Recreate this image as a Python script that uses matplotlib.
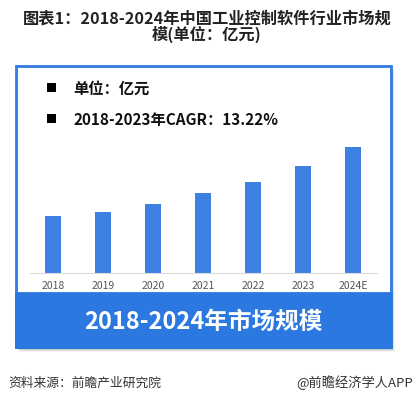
import matplotlib.pyplot as plt
from matplotlib.patches import Rectangle

plt.rcParams['font.family'] = ['Noto Sans CJK SC', 'DejaVu Sans']

years = ["2018", "2019", "2020", "2021", "2022", "2023", "2024E"]
market_size = [57.3, 61.0, 69.0, 80.0, 91.0, 107.0, 126.0]

title = "图表1：2018-2024年中国工业控制软件行业市场规\n模(单位：亿元)"
legend_lines = ["单位：亿元", "2018-2023年CAGR：13.22%"]
banner_text = "2018-2024年市场规模"
source_text = "资料来源：前瞻产业研究院"
brand_text = "@前瞻经济学人APP"

W, H = 415, 402
fig = plt.figure(figsize=(W / 100, H / 100), dpi=100)

# full-figure axes in pixel coordinates for layout
bg = fig.add_axes([0, 0, 1, 1])
bg.set_xlim(0, W)
bg.set_ylim(H, 0)
bg.axis("off")

bg.text(207, 27, title, ha="center", va="center", fontsize=11.7,
        fontweight="bold", color="#222222", linespacing=0.98)

# shadow
for i, a in enumerate([0.10, 0.07, 0.04]):
    bg.add_patch(Rectangle((18 + i, 69 + i), 375, 282, facecolor="#000000",
                           alpha=a, edgecolor="none", zorder=1))

# box with blue border
bg.add_patch(Rectangle((16, 67), 375, 281, facecolor="white",
                       edgecolor="#2f7be0", linewidth=2, zorder=2))
# banner
bg.add_patch(Rectangle((16, 294), 375, 54, facecolor="#2a78e0",
                       edgecolor="#2a78e0", linewidth=2, zorder=3))
bg.text(203, 322, banner_text, ha="center", va="center", fontsize=17,
        fontweight="bold", color="white", zorder=4)

for y, line in zip([89, 120], legend_lines):
    bg.add_patch(Rectangle((47, y - 5), 9, 9, facecolor="black", zorder=4))
    bg.text(73, y, line, ha="left", va="center", fontsize=11,
            fontweight="bold", color="#111111", zorder=4)

bg.text(8, 383, source_text, ha="left", va="center", fontsize=9.2,
        color="#333333")
bg.text(413, 383, brand_text, ha="right", va="center", fontsize=9.5,
        color="#333333")

# bar axes: x from 30 to 377 px, baseline at y=274 px, top at 130 px
ax = fig.add_axes([30 / W, (H - 274) / H, (377 - 30) / W, (274 - 130) / H])
ax.set_zorder(5)
ax.patch.set_alpha(0)
xs = range(len(years))
ax.bar(xs, market_size, width=0.32, color="#3d82e3")
ax.set_xlim(-0.46, 6.48)
ax.set_ylim(0, 274 - 130)
ax.set_xticks(list(xs))
ax.set_xticklabels(years, fontsize=7.5, color="#555555")
ax.tick_params(axis="x", length=0, pad=5)
ax.set_yticks([])
for s in ["top", "right", "left"]:
    ax.spines[s].set_visible(False)
ax.spines["bottom"].set_color("#d9d9d9")

fig.savefig("out.png", dpi=100)
